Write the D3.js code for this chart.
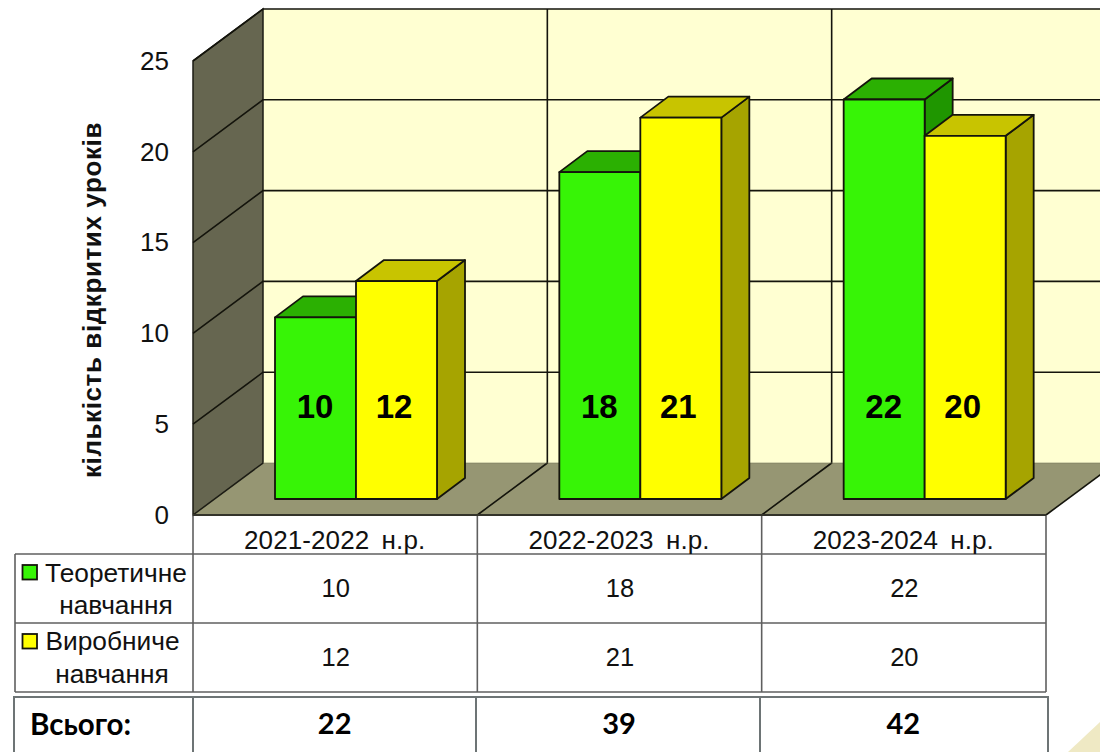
<!DOCTYPE html>
<html>
<head>
<meta charset="utf-8">
<script src="https://cdn.jsdelivr.net/npm/d3@7"></script>
<style>
	html, body { margin: 0; padding: 0; background: #fff; }
	svg { display: block; }
	text { font-family: "Liberation Sans", Arial, sans-serif; fill: #111; }
	.total text { font-family: Lato, "Noto Sans", sans-serif; font-weight: 700; fill: #000; }
</style>
</head>
<body>
<svg id="chart" width="1100" height="752"></svg>
<script>
const categories = ['2021-2022 н.р.', '2022-2023 н.р.', '2023-2024 н.р.'];
const seriesNames = ['theory', 'practice'];
const theory = [10, 18, 22];
const practice = [12, 21, 20];
const totals = [22, 39, 42];
const yTicks = [0, 5, 10, 15, 20, 25];

const width = 1100,
	height = 752,
	depth = { x: 70, y: 52 },      // wall depth
	barLift = { x: 21.5, y: 16 },  // bar front sits this far back from the front edge
	barDepth = { x: 28, y: 21 };

const colors = {
	theory: { front: '#37f406', top: '#2bb002', side: '#1f9600' },
	practice: { front: '#ffff00', top: '#c8c400', side: '#a6a400' }
};

const svg = d3.select('#chart');

const x = d3.scaleBand().domain(categories).range([193, 1046]);
const inner = d3.scaleBand().domain(seriesNames).range([82, 244]);
const y = d3.scaleLinear().domain([0, 25]).range([515, 61]);
const line = '#1c1c14';

// corner of the slide background
svg.append('path').attr('d', 'M1068,752L1100,722V752Z').attr('fill', '#efe9c4');

//-----------------------------
//    Walls and floor
//-----------------------------
const x0 = x.range()[0], x1 = x.range()[1];
const poly = pts => 'M' + pts.map(p => p.join(',')).join('L') + 'Z';

svg.append('path') // back wall
	.attr('d', poly([[x0 + depth.x, y(25) - depth.y], [x1 + depth.x, y(25) - depth.y], [x1 + depth.x, y(0) - depth.y], [x0 + depth.x, y(0) - depth.y]]))
	.attr('fill', '#ffffd2');

svg.append('path') // floor
	.attr('d', poly([[x0, y(0)], [x1, y(0)], [x1 + depth.x, y(0) - depth.y], [x0 + depth.x, y(0) - depth.y]]))
	.attr('fill', '#969673');

svg.append('path') // side wall
	.attr('d', poly([[x0, y(0)], [x0, y(25)], [x0 + depth.x, y(25) - depth.y], [x0 + depth.x, y(0) - depth.y]]))
	.attr('fill', '#666650')
	.attr('stroke', line)
	.attr('stroke-width', 1.5);

// horizontal grid, along the side wall and across the back
const grid = svg.append('g').attr('fill', 'none').attr('stroke', '#14140c').attr('stroke-width', 1.6);
yTicks.slice(1).forEach(t => {
	grid.append('path')
		.attr('d', `M${x0},${y(t)}L${x0 + depth.x},${y(t) - depth.y}L${x1 + depth.x},${y(t) - depth.y}`);
});

// verticals on the back wall, diagonals on the floor
categories.slice(1).forEach(c => {
	grid.append('path')
		.attr('d', `M${x(c)},${y(0)}L${x(c) + depth.x},${y(0) - depth.y}V${y(25) - depth.y}`);
});
grid.append('path').attr('d', `M${x1},${y(0)}L${x1 + depth.x},${y(0) - depth.y}`);
grid.append('path').attr('d', `M${x0 + depth.x},${y(0) - depth.y}H${x1 + depth.x}`).attr('stroke-width', 0.6).attr('stroke', '#77775a');

//-----------------------------
//    Bars
//-----------------------------
const rows = [
	{ key: 'theory', values: theory, nudge: -0.5 },
	{ key: 'practice', values: practice, nudge: -2.5 }
];

const bars = svg.append('g').attr('stroke', '#14140c').attr('stroke-width', 1.8).attr('stroke-linejoin', 'round');

const barBox = (key, i, v) => {
	const left = x(categories[i]) + inner(key);
	const floor = y(0) - barLift.y;
	const top = floor - (y(0) - y(v));
	return { left, right: left + inner.bandwidth(), floor, top };
};

rows.forEach(row => {
	row.values.forEach((v, i) => {
		const b = barBox(row.key, i, v);
		bars.append('path') // side face
			.attr('d', poly([[b.right, b.floor], [b.right + barDepth.x, b.floor - barDepth.y], [b.right + barDepth.x, b.top - barDepth.y], [b.right, b.top]]))
			.attr('fill', colors[row.key].side);
		bars.append('path') // top face
			.attr('d', poly([[b.left, b.top], [b.left + barDepth.x, b.top - barDepth.y], [b.right + barDepth.x, b.top - barDepth.y], [b.right, b.top]]))
			.attr('fill', colors[row.key].top);
		bars.append('rect')
			.attr('x', b.left)
			.attr('y', b.top)
			.attr('width', b.right - b.left)
			.attr('height', b.floor - b.top)
			.attr('fill', colors[row.key].front);
	});
});

// value labels in the lower part of every bar
rows.forEach(row => {
	row.values.forEach((v, i) => {
		const b = barBox(row.key, i, v);
		svg.append('text')
			.attr('x', (b.left + b.right) / 2 + row.nudge)
			.attr('y', y(5) - barLift.y + 9.5)
			.attr('text-anchor', 'middle')
			.style('font-size', '33px')
			.style('font-weight', 700)
			.style('fill', '#000')
			.text(v);
	});
});

//-----------------------------
//    Value axis
//-----------------------------
const axis = svg.append('g')
	.attr('transform', `translate(${x0},0)`)
	.call(d3.axisLeft(y).tickValues(yTicks).tickSize(0).tickPadding(24));
axis.select('.domain').remove();
axis.selectAll('text').style('font-size', '26px').style('font-family', '"Liberation Sans", Arial, sans-serif').style('fill', '#111');

svg.append('text')
	.attr('transform', 'translate(101,300) rotate(-90)')
	.attr('text-anchor', 'middle')
	.style('font-size', '26px')
	.style('font-weight', 700)
	.style('letter-spacing', '0.6px')
	.text('кількість відкритих уроків');

//-----------------------------
//    Data table
//-----------------------------
const tableLeft = 15,
	rowTops = [515, 554, 623, 692];
const table = svg.append('g').attr('stroke', '#5f5f5f').attr('stroke-width', 1.6).attr('fill', 'none');

rowTops.slice(1).forEach(t => table.append('path').attr('d', `M${tableLeft},${t}H${x1}`));
table.append('path').attr('d', `M${tableLeft},${rowTops[1]}V${rowTops[3]}`);
x.domain().forEach(c => table.append('path').attr('d', `M${x(c)},${rowTops[0]}V${rowTops[3]}`));
table.append('path').attr('d', `M${x1},${rowTops[0]}V${rowTops[3]}`);
svg.append('path').attr('d', `M${x0},${y(0)}H${x1}`).attr('stroke', '#33332a').attr('stroke-width', 2);

const cell = (cx, cy, txt, size) => svg.append('text')
	.attr('x', cx)
	.attr('y', cy)
	.attr('text-anchor', 'middle')
	.style('font-size', size + 'px')
	.text(txt);

categories.forEach((c, i) => {
	const cx = x(c) + x.bandwidth() / 2;
	cell(cx - 0.5, 549, c, 26).style('word-spacing', '5px').style('letter-spacing', '0.1px');
	cell(cx + 0.5, 597, theory[i], 25.5);
	cell(cx + 0.5, 666, practice[i], 25.5);
});

// legend keys with row labels
const legendRows = [
	{ key: 'theory', top: 565, lines: [['Теоретичне', 116, 582], ['навчання', 116, 614]] },
	{ key: 'practice', top: 634, lines: [['Виробниче', 112.5, 650], ['навчання', 112, 683]] }
];
legendRows.forEach(r => {
	svg.append('rect')
		.attr('x', 22.5).attr('y', r.top)
		.attr('width', 14.5).attr('height', 14.5)
		.attr('fill', colors[r.key].front)
		.attr('stroke', '#14140c').attr('stroke-width', 1.8);
	r.lines.forEach(l => cell(l[1], l[2], l[0], 26.3));
});

// totals table sits below as a separate block
const totalTable = svg.append('g').attr('class', 'total');
const frame = [[14, 697, 1034, 60], [193, 697, 283, 60], [476, 697, 284, 60]];
frame.forEach(f => totalTable.append('rect')
	.attr('x', f[0]).attr('y', f[1]).attr('width', f[2]).attr('height', f[3])
	.attr('fill', 'none').attr('stroke', '#6d7475').attr('stroke-width', 2));

totalTable.append('text').attr('x', 30).attr('y', 735).style('font-size', '29.5px').text('Всього:');
totals.forEach((v, i) => {
	totalTable.append('text')
		.attr('x', x(categories[i]) + x.bandwidth() / 2 - 0.5)
		.attr('y', 734)
		.attr('text-anchor', 'middle')
		.style('font-size', '29px')
		.text(v);
});
</script>
</body>
</html>
